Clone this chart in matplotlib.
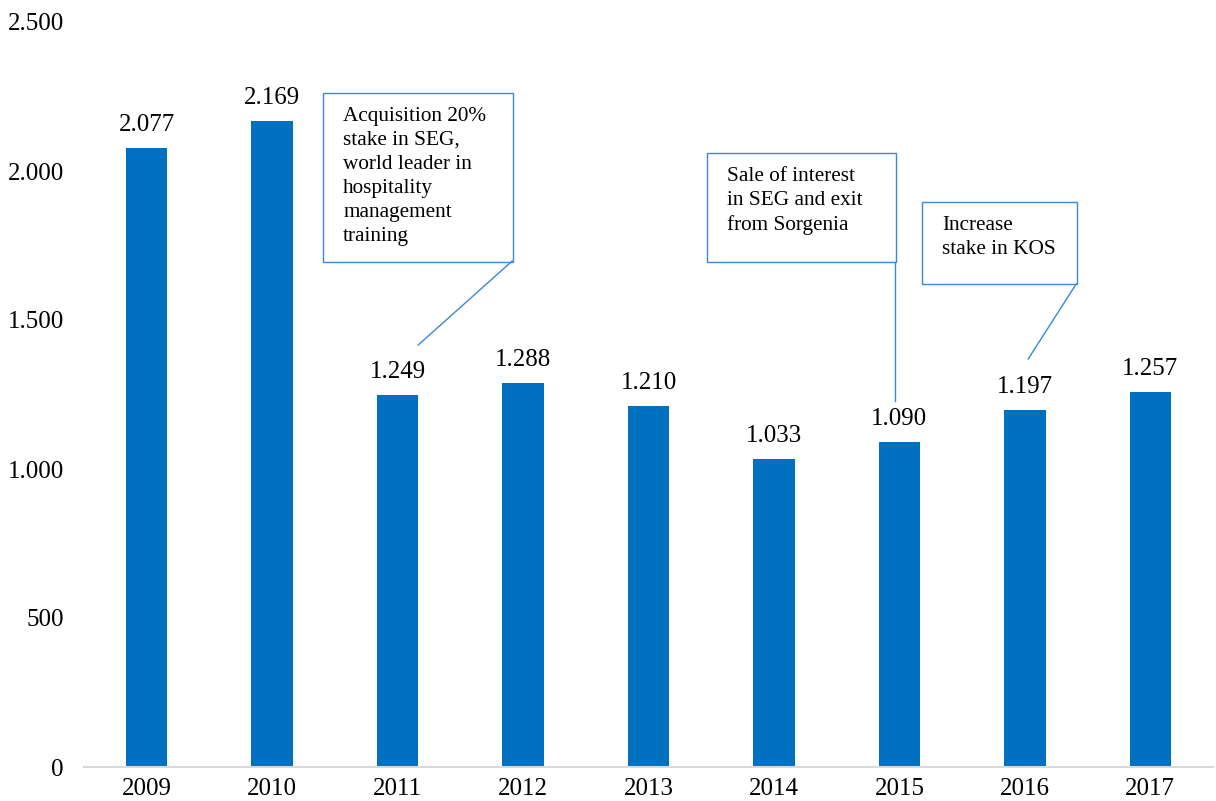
import matplotlib.pyplot as plt
from matplotlib.patches import Rectangle
from matplotlib.ticker import FuncFormatter

years = ["2009", "2010", "2011", "2012", "2013", "2014", "2015", "2016", "2017"]
values = [2077, 2169, 1249, 1288, 1210, 1033, 1090, 1197, 1257]
y_ticks = [0, 500, 1000, 1500, 2000, 2500]

notes = [
    "Acquisition 20%\nstake in SEG,\nworld leader in\nhospitality\nmanagement\ntraining",
    "Sale of interest\nin SEG and exit\nfrom Sorgenia",
    "Increase\nstake in KOS",
]

BAR = "#0070C0"
LINE = "#3C88D2"

plt.rcParams["font.family"] = ["Liberation Serif", "DejaVu Serif"]


def fmt(v):
    # thousands separated by a dot, as in the source
    return f"{int(v):,}".replace(",", ".")


fig = plt.figure(figsize=(12.16, 8.01), dpi=100)
W, H = 1216, 801
ax = fig.add_axes([84 / W, 1 - 767 / H, (1213 - 84) / W, (767 - 22) / H])

x = range(len(years))
ax.bar(x, values, width=0.33, color=BAR, zorder=2)
for i, v in enumerate(values):
    ax.annotate(fmt(v), (i, v), xytext=(0, 12.2), textcoords="offset points",
                ha="center", va="baseline", fontsize=18)

ax.set_xlim(-0.5, len(years) - 0.5)
ax.set_ylim(0, 2500)
ax.set_xticks(list(x))
ax.set_xticklabels(years)
ax.set_yticks(y_ticks)
ax.yaxis.set_major_formatter(FuncFormatter(lambda v, p: fmt(v)))
ax.tick_params(axis="both", length=0, labelsize=18)
ax.tick_params(axis="y", pad=14.5)
ax.tick_params(axis="x", pad=8)
for s in ("top", "right", "left"):
    ax.spines[s].set_visible(False)
ax.spines["bottom"].set_color("#D9D9D9")
ax.spines["bottom"].set_linewidth(1.5)


def px(xp, yp):
    # pixel position in the picture -> data coordinates
    return (xp - 146.5) / 125.45, (767 - yp) / 0.298


# callout boxes: (left, top, right, bottom) in pixels, leader (from, to)
boxes = [
    ((323, 93, 513, 262), ((512, 261), (418, 345))),
    ((707, 153, 896, 262), ((895, 262), (895, 401))),
    ((922, 202, 1077, 284), ((1076, 284), (1028, 359))),
]
for note, (box, leader) in zip(notes, boxes):
    x0, y0 = px(box[0], box[3])
    x1, y1 = px(box[2], box[1])
    ax.add_patch(Rectangle((x0, y0), x1 - x0, y1 - y0, fill=True, facecolor="white",
                           edgecolor=LINE, linewidth=1.0, zorder=3))
    tx, ty = px(box[0] + 20, box[1] + 14)
    ax.text(tx, ty, note, ha="left", va="top", fontsize=15.3, linespacing=1.36, zorder=4)
    (ax0, ay0), (ax1, ay1) = px(*leader[0]), px(*leader[1])
    ax.plot([ax0, ax1], [ay0, ay1], color=LINE, linewidth=1.0, zorder=3)

fig.savefig("out.png", dpi=100)
